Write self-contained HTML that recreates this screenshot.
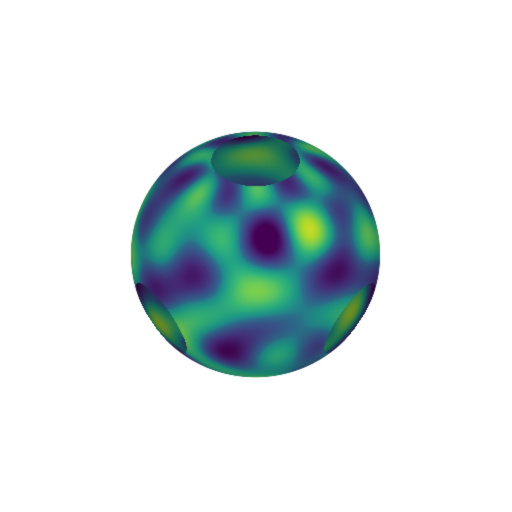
<!DOCTYPE html>
<html><head><meta charset="utf-8"><style>
html,body{margin:0;padding:0;background:#fff;width:512px;height:512px;overflow:hidden}
canvas{display:block}
</style></head><body>
<canvas id="c" width="512" height="512"></canvas>
<script>
// surface parameters
const waveLat = [6.0, 9.0, 3.0];
const waveLon = [4.0, 6.0, 8.0];
const waveAmp = [0.5, 0.35, 0.3];
const holeDirs = [[0,0,1],[0.8,0.51,-0.31],[-0.8,0.51,-0.31],[0,0,-1]];
const holeSize = [0.935, 0.94, 0.94, 0.9];
const viridis = [[68,1,84],[72,40,120],[62,74,137],[49,104,142],[38,130,142],[31,158,137],[53,183,121],[110,206,88],[181,222,43],[253,231,37]];
function cmap(t){t=Math.max(0,Math.min(1,t))*(viridis.length-1);const i=Math.min(viridis.length-2,Math.floor(t)),f=t-i;
 return viridis[i].map((v,k)=>v+(viridis[i+1][k]-v)*f);}
const cv=document.getElementById('c');const ctx=cv.getContext('2d');
const img=ctx.createImageData(512,512);
const cx=255,cy=254,R=125,e=0.62;
const ce=Math.cos(e),se=Math.sin(e);
function field(x,y,z){const lat=Math.asin(Math.max(-1,Math.min(1,z))),lon=Math.atan2(y,x);
 let v=0;for(let i=0;i<waveLat.length;i++)v+=waveAmp[i]*Math.sin(waveLat[i]*lat+1.3*i)*Math.cos(waveLon[i]*lon+0.7*i);
 v=Math.sign(v)*Math.pow(Math.abs(v),0.7);
 return 0.42+0.5*v;}
function inHole(w){for(let i=0;i<holeDirs.length;i++){const d=holeDirs[i];const n=Math.hypot(d[0],d[1],d[2]);
 if((w[0]*d[0]+w[1]*d[1]+w[2]*d[2])/n>holeSize[i])return true;}return false;}
function toWorld(nx,ny,nz){return [nx, -ny*se+nz*ce, ny*ce+nz*se];}
for(let py=0;py<512;py++)for(let px=0;px<512;px++){
 const nx=(px-cx)/R,ny=-(py-cy)/R*1.015;const r2=nx*nx+ny*ny;if(r2>1)continue;
 const nz=Math.sqrt(1-r2);
 let w=toWorld(nx,ny,nz);let shade=1;
 if(inHole(w)){w=toWorld(nx,ny,-nz);if(inHole(w))continue;shade=0.75;}
 const t=field(w[0],w[1],w[2]);let c=cmap(t);
 const l=shade*(0.6+0.4*Math.pow(nz,0.5));
 const o=(py*512+px)*4;let a=Math.min(1,(1-Math.sqrt(r2))*R*1.5);
 for(let k=0;k<3;k++)img.data[o+k]=255*(1-a)+a*c[k]*l;img.data[o+3]=255;}
ctx.fillStyle='#fff';ctx.fillRect(0,0,512,512);
const tmp=ctx.getImageData(0,0,512,512);
for(let i=0;i<img.data.length;i+=4){if(img.data[i+3])for(let k=0;k<4;k++)tmp.data[i+k]=img.data[i+k];}
ctx.putImageData(tmp,0,0);
</script>
</body></html>
